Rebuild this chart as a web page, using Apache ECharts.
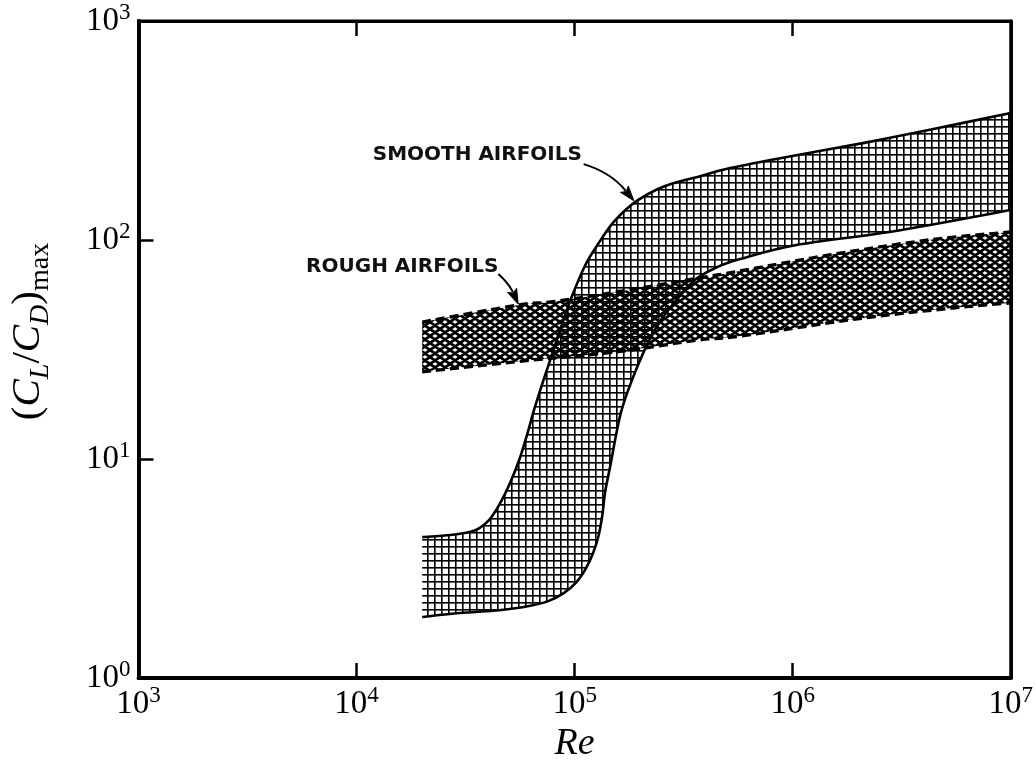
<!DOCTYPE html>
<html>
<head>
<meta charset="utf-8">
<script src="https://cdn.jsdelivr.net/npm/echarts@6/dist/echarts.min.js"></script>
<style>
  html, body { margin: 0; padding: 0; background: #fff; overflow: hidden; }
  #chart { width: 1036px; height: 771px; }
</style>
</head>
<body>
<div id="chart"></div>
<script>
// Boundaries of the (CL/CD)max bands versus Reynolds number, as [Re, (CL/CD)max]
const smoothUpper = [
  [2.0e4, 4.4], [2.7e4, 4.5], [3.3e4, 4.64], [3.66e4, 4.84], [4.06e4, 5.27],
  [4.51e4, 6.17], [5.01e4, 7.61], [5.57e4, 9.89], [6.05e4, 12.9], [6.51e4, 16.7],
  [7.08e4, 21.8], [7.86e4, 29.8], [8.73e4, 40.9], [9.69e4, 54.9], [1.12e5, 76.9],
  [1.29e5, 96.9], [1.47e5, 117], [1.71e5, 137], [1.95e5, 152], [2.41e5, 171],
  [2.97e5, 184], [3.66e5, 194], [5.17e5, 213], [1.04e6, 244], [2.10e6, 277],
  [4.20e6, 318], [1.0e7, 380]
];
const smoothLower = [
  [2.0e4, 1.90], [2.97e4, 1.98], [4.51e4, 2.04], [6.18e4, 2.13], [7.62e4, 2.25],
  [8.91e4, 2.44], [1.02e5, 2.74], [1.13e5, 3.18], [1.22e5, 3.76], [1.29e5, 4.50],
  [1.34e5, 5.55], [1.38e5, 7.07], [1.46e5, 9.39], [1.54e5, 12.5], [1.62e5, 15.9],
  [1.71e5, 19.0], [1.82e5, 22.5], [1.98e5, 27.7], [2.17e5, 33.9], [2.49e5, 43.1],
  [2.88e5, 52.1], [3.30e5, 61.0], [3.66e5, 67.1], [4.51e5, 75.3], [5.74e5, 81.9],
  [1.04e6, 94.9], [2.97e6, 110], [1.0e7, 137]
];
const roughUpper = [
  [2.0e4, 42.2], [5.57e4, 50.5], [9.10e4, 53.2], [4.51e5, 69.2], [1.47e6, 85.4],
  [4.20e6, 100], [1.0e7, 108.8]
];
const roughLower = [
  [2.0e4, 25.0], [6.38e4, 28.3], [1.54e5, 30.8], [3.66e5, 34.9], [5.74e5, 36.4],
  [2.10e6, 44.0], [5.98e6, 49.4], [1.0e7, 51.6]
];

// Decade exponents shown on the axes
const xExponents = [3, 4, 5, 6, 7];
const yExponents = [0, 1, 2, 3];

// Callout labels: text anchor, arrow start, arrow bend and arrow tip (data units)
const calloutText = ['SMOOTH AIRFOILS', 'ROUGH AIRFOILS'];
const calloutAnchor = [[3.58e4, 244], [1.62e4, 75.3]];
const arrowFrom = [[1.10e5, 222], [4.47e4, 69.9]];
const arrowBend = [[1.46e5, 204], [5.01e4, 63]];
const arrowTip = [[1.87e5, 151], [5.51e4, 51.0]];

const SERIF = '"Liberation Serif", "DejaVu Serif", serif';

// Square grid hatching for the smooth-airfoil band
function gridHatch() {
  const c = document.createElement('canvas');
  c.width = 7; c.height = 7;
  const g = c.getContext('2d');
  g.fillStyle = '#000';
  g.fillRect(0, 0, 1, 7);
  g.fillRect(0, 0, 7, 1);
  g.fillStyle = 'rgba(0,0,0,0.6)';
  g.fillRect(1, 0, 1, 7);
  g.fillRect(0, 1, 7, 1);
  return c;
}

// Diagonal cross hatching for the rough-airfoil band
function crossHatch() {
  const w = 10, h = 7;
  const c = document.createElement('canvas');
  c.width = w; c.height = h;
  const g = c.getContext('2d');
  g.strokeStyle = '#000';
  g.lineWidth = 2.7;
  g.beginPath();
  for (let k = -1; k <= 1; k++) {
    g.moveTo(-w, -h + k * h); g.lineTo(2 * w, 2 * h + k * h);
    g.moveTo(-w, 2 * h + k * h); g.lineTo(2 * w, -h + k * h);
  }
  g.stroke();
  return c;
}

const gridPattern = { image: gridHatch(), repeat: 'repeat' };
const crossPattern = { image: crossHatch(), repeat: 'repeat' };

// Smooth curve through screen points (Catmull-Rom written as cubic Beziers)
function splineCommands(p) {
  let d = '';
  for (let i = 0; i < p.length - 1; i++) {
    const p0 = p[Math.max(i - 1, 0)], p1 = p[i], p2 = p[i + 1], p3 = p[Math.min(i + 2, p.length - 1)];
    const c1x = p1[0] + (p2[0] - p0[0]) / 6, c1y = p1[1] + (p2[1] - p0[1]) / 6;
    const c2x = p2[0] - (p3[0] - p1[0]) / 6, c2y = p2[1] - (p3[1] - p1[1]) / 6;
    d += ' C' + c1x + ' ' + c1y + ' ' + c2x + ' ' + c2y + ' ' + p2[0] + ' ' + p2[1];
  }
  return d;
}

// Filled band between two boundary curves
function bandFill(upper, lower, pattern) {
  return function (params, api) {
    if (params.dataIndex !== 0) return null;
    const top = upper.map(p => api.coord(p));
    const bot = lower.map(p => api.coord(p)).reverse();
    const d = 'M' + top[0][0] + ' ' + top[0][1] + splineCommands(top) +
      ' L' + bot[0][0] + ' ' + bot[0][1] + splineCommands(bot) + ' Z';
    return { type: 'path', shape: { pathData: d }, style: { fill: pattern, stroke: null } };
  };
}

// Boundary curves of a band
function bandEdges(upper, lower, width, dash) {
  return function (params, api) {
    if (params.dataIndex !== 0) return null;
    return {
      type: 'group',
      children: [upper, lower].map(curve => {
        const pts = curve.map(p => api.coord(p));
        return {
          type: 'path',
          shape: { pathData: 'M' + pts[0][0] + ' ' + pts[0][1] + splineCommands(pts) },
          style: {
            fill: null, stroke: '#000', lineWidth: width,
            lineDash: dash, lineJoin: 'round', lineCap: 'butt'
          }
        };
      })
    };
  };
}

// Callout text with a curved arrow pointing at a band
function callouts(params, api) {
  const i = params.dataIndex;
  const a = api.coord(calloutAnchor[i]);
  const s = api.coord(arrowFrom[i]);
  const m = api.coord(arrowBend[i]);
  const t = api.coord(arrowTip[i]);
  const dx = t[0] - m[0], dy = t[1] - m[1];
  const len = Math.hypot(dx, dy) || 1;
  const ux = dx / len, uy = dy / len;
  const headL = 15, headW = 5;
  const bx = t[0] - ux * headL, by = t[1] - uy * headL;
  return {
    type: 'group',
    children: [
      {
        type: 'text',
        style: {
          x: a[0], y: a[1], text: calloutText[i],
          font: 'bold 20px "DejaVu Sans", sans-serif',
          fill: '#111', align: 'center', verticalAlign: 'middle'
        }
      },
      {
        type: 'bezierCurve',
        shape: { x1: s[0], y1: s[1], cpx1: m[0], cpy1: m[1], x2: bx + ux * 2, y2: by + uy * 2 },
        style: { stroke: '#000', lineWidth: 2, fill: null }
      },
      {
        type: 'polygon',
        shape: {
          points: [
            [t[0], t[1]],
            [bx - uy * headW, by + ux * headW],
            [bx + ux * 3, by + uy * 3],
            [bx + uy * headW, by - ux * headW]
          ]
        },
        style: { fill: '#000', stroke: '#000', lineWidth: 1 }
      }
    ]
  };
}

const powerRich = {
  b: { fontFamily: SERIF, fontSize: 33, color: '#000', lineHeight: 40, verticalAlign: 'middle' },
  s: { fontFamily: SERIF, fontSize: 23, color: '#000', lineHeight: 27, verticalAlign: 'top' }
};
const powerLabel = v => '{b|10}{s|' + Math.round(Math.log10(v)) + '}';

const logAxisBase = {
  type: 'log',
  logBase: 10,
  splitLine: { show: false },
  minorTick: { show: false },
  minorSplitLine: { show: false },
  axisLine: { show: true, lineStyle: { color: '#000', width: 4 } },
  axisTick: { show: true, inside: true, length: 15, lineStyle: { color: '#000', width: 2.5 } }
};

const chart = echarts.init(document.getElementById('chart'), null, { renderer: 'canvas' });

chart.setOption({
  animation: false,
  backgroundColor: '#fff',
  grid: {
    left: 136, right: 18, top: 21, bottom: 93,
    show: true, borderColor: '#000', borderWidth: 3, backgroundColor: 'transparent'
  },
  xAxis: [
    Object.assign({}, logAxisBase, {
      min: Math.pow(10, xExponents[0]),
      max: Math.pow(10, xExponents[xExponents.length - 1]),
      position: 'bottom',
      name: 'Re',
      nameLocation: 'middle',
      nameGap: 46,
      nameTextStyle: { fontFamily: SERIF, fontStyle: 'italic', fontSize: 38, color: '#000' },
      axisLabel: { formatter: powerLabel, rich: powerRich, margin: 6, showMinLabel: true, showMaxLabel: true }
    }),
    Object.assign({}, logAxisBase, {
      min: Math.pow(10, xExponents[0]),
      max: Math.pow(10, xExponents[xExponents.length - 1]),
      position: 'top',
      axisLine: { show: true, lineStyle: { color: '#000', width: 3 } },
      axisLabel: { show: false }
    })
  ],
  yAxis: [
    Object.assign({}, logAxisBase, {
      min: Math.pow(10, yExponents[0]),
      max: Math.pow(10, yExponents[yExponents.length - 1]),
      position: 'left',
      name: '{n|(}{i|C}{si|L}{n|/}{i|C}{si|D}{n|)}{sm|max}',
      nameLocation: 'middle',
      nameGap: 84,
      nameRotate: 90,
      nameTextStyle: {
        padding: [0, 0, 0, 36],
        rich: {
          n: { fontFamily: SERIF, fontSize: 41, color: '#000', lineHeight: 52, verticalAlign: 'middle' },
          i: { fontFamily: SERIF, fontSize: 41, fontStyle: 'italic', color: '#000', lineHeight: 52, verticalAlign: 'middle' },
          si: { fontFamily: SERIF, fontSize: 28, fontStyle: 'italic', color: '#000', lineHeight: 28, verticalAlign: 'bottom' },
          sm: { fontFamily: SERIF, fontSize: 28, color: '#000', lineHeight: 28, verticalAlign: 'bottom' }
        }
      },
      axisLabel: { formatter: powerLabel, rich: powerRich, margin: 8, showMinLabel: true, showMaxLabel: true }
    }),
    Object.assign({}, logAxisBase, {
      min: Math.pow(10, yExponents[0]),
      max: Math.pow(10, yExponents[yExponents.length - 1]),
      position: 'right',
      axisLine: { show: true, lineStyle: { color: '#000', width: 3 } },
      axisTick: { show: false },
      axisLabel: { show: false }
    })
  ],
  series: [
    {
      name: 'Smooth airfoils', type: 'custom', silent: true, z: 2,
      renderItem: bandFill(smoothUpper, smoothLower, gridPattern),
      data: smoothUpper, encode: { x: 0, y: 1 }
    },
    {
      name: 'Rough airfoils', type: 'custom', silent: true, z: 3,
      renderItem: bandFill(roughUpper, roughLower, crossPattern),
      data: roughUpper, encode: { x: 0, y: 1 }
    },
    {
      name: 'Smooth airfoil limits', type: 'custom', silent: true, z: 4,
      renderItem: bandEdges(smoothUpper, smoothLower, 2.6, null),
      data: smoothLower, encode: { x: 0, y: 1 }
    },
    {
      name: 'Rough airfoil limits', type: 'custom', silent: true, z: 5,
      renderItem: bandEdges(roughUpper, roughLower, 3.4, [9, 5]),
      data: roughLower, encode: { x: 0, y: 1 }
    },
    {
      name: 'Callouts', type: 'custom', silent: true, z: 6,
      renderItem: callouts,
      data: arrowTip, encode: { x: 0, y: 1 }
    }
  ]
});
</script>
</body>
</html>
